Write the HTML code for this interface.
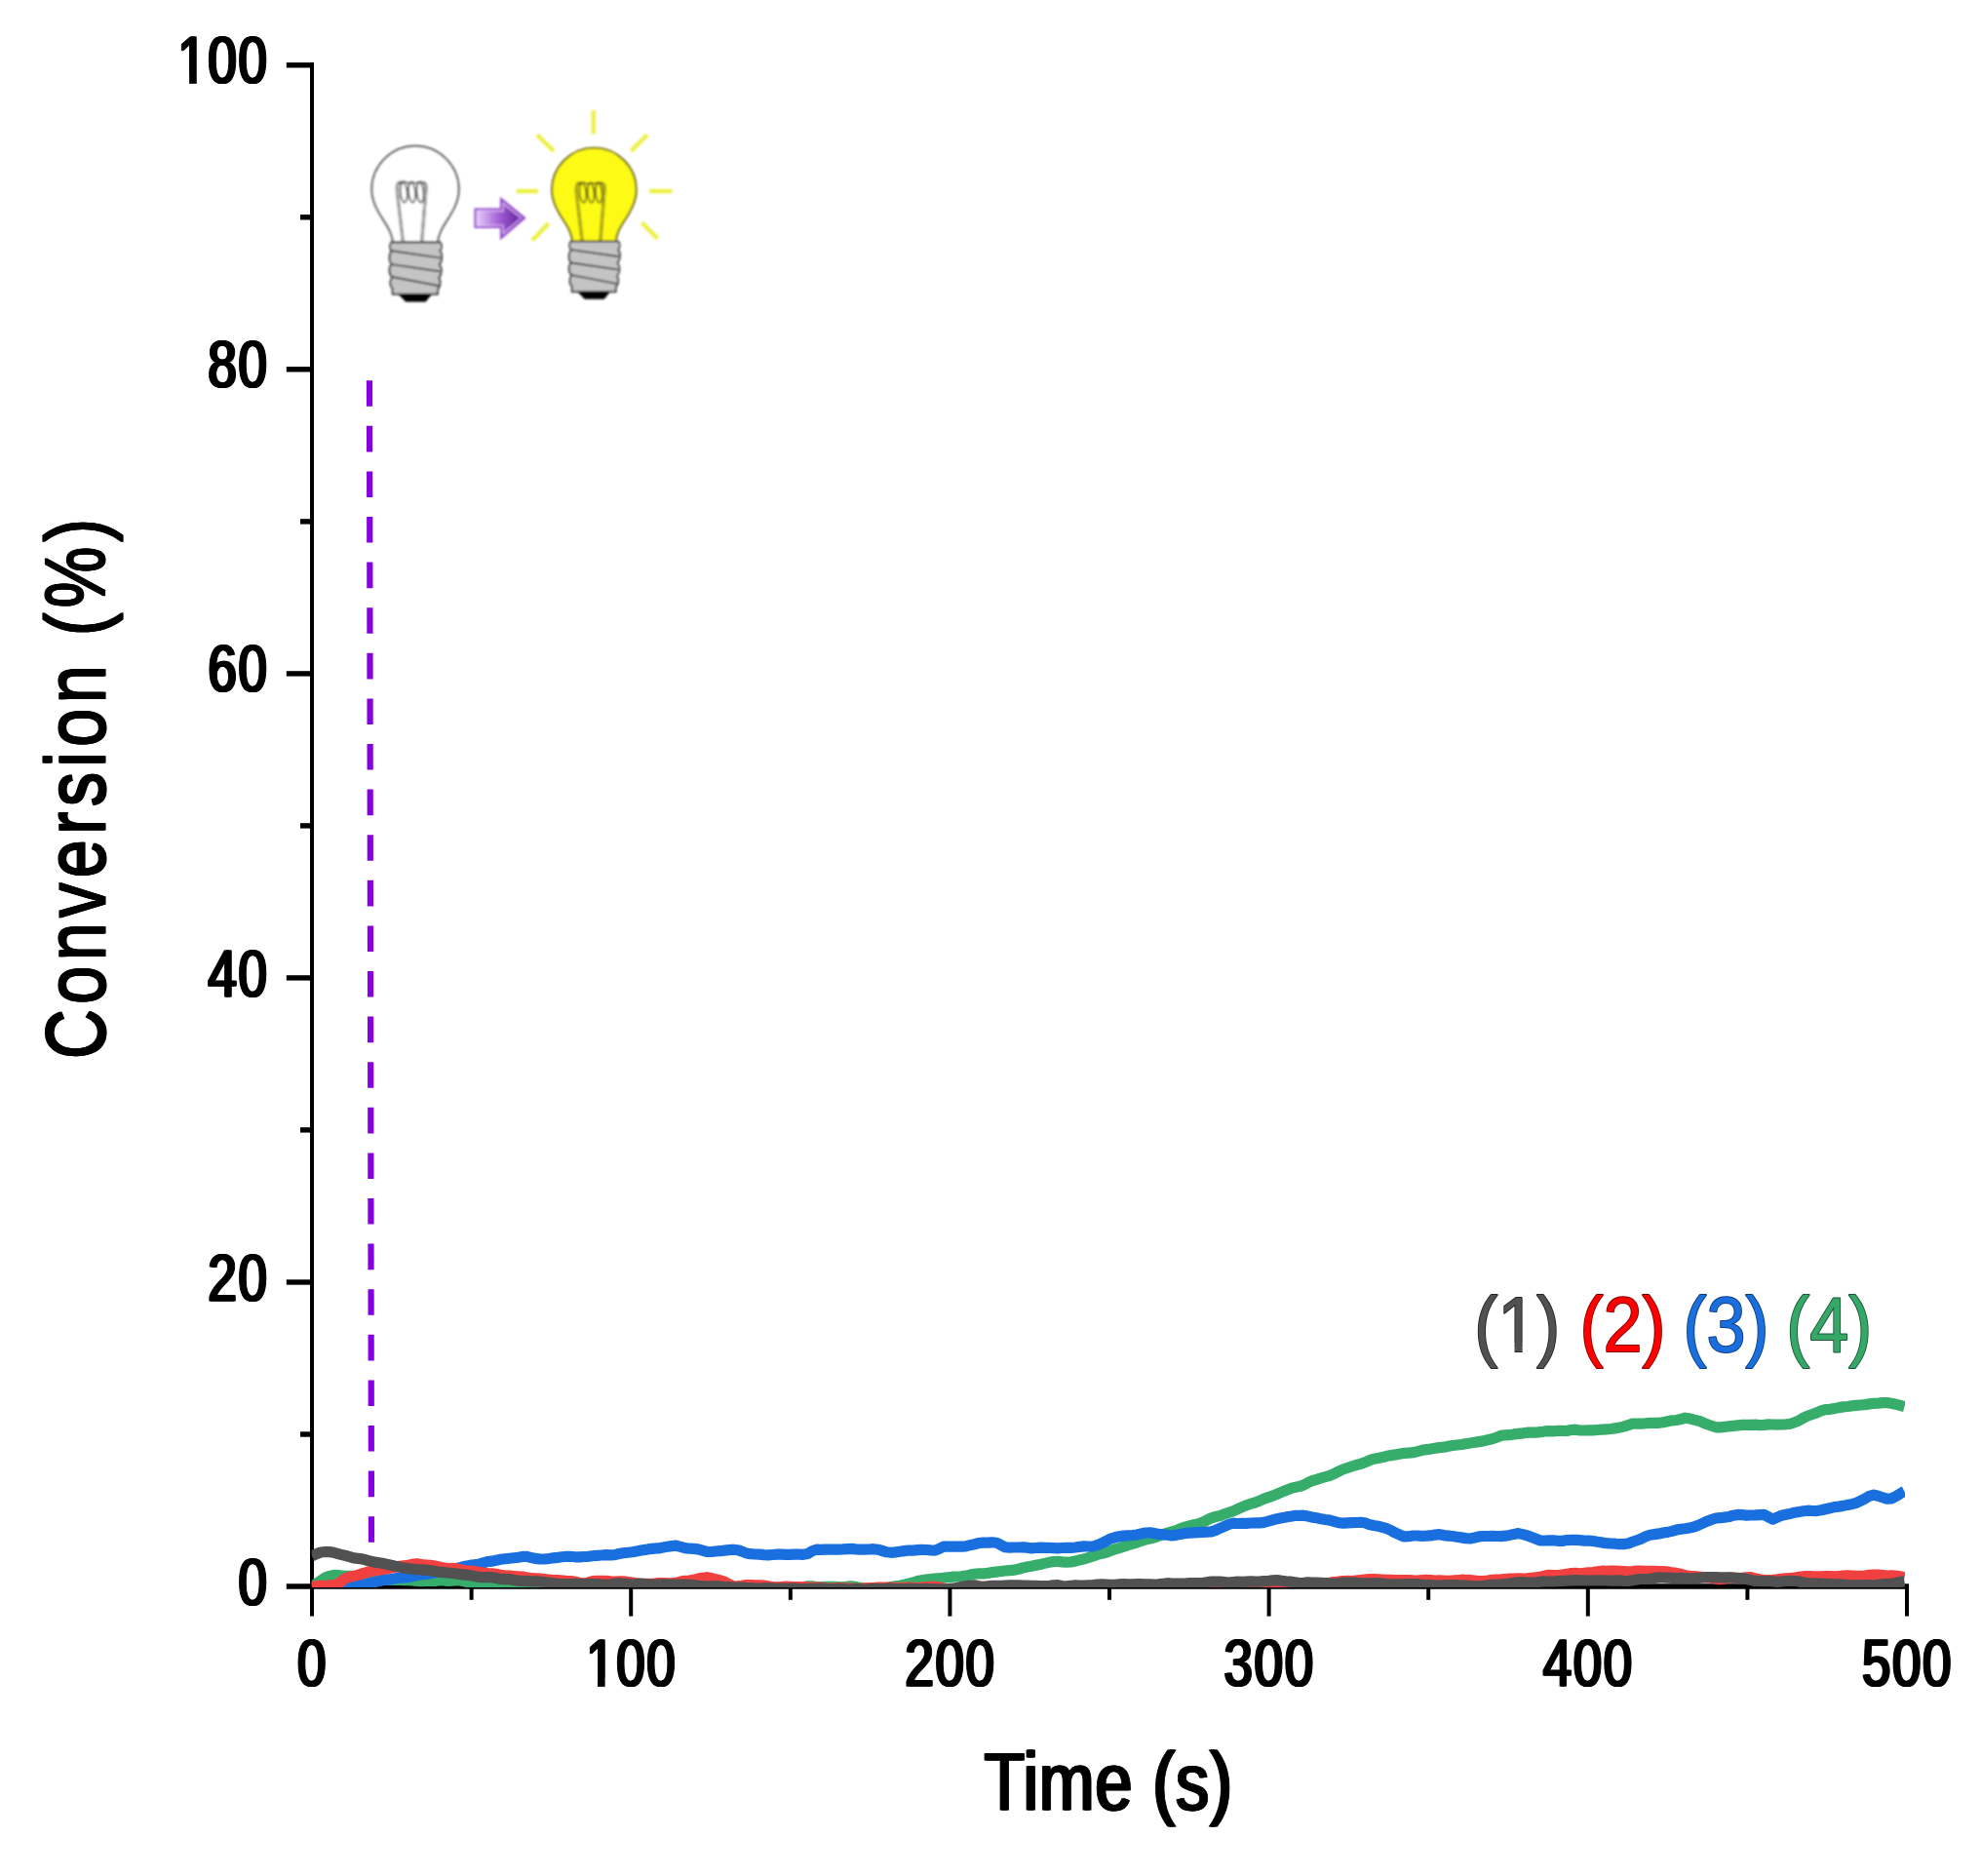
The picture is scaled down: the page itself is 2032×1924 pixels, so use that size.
<!DOCTYPE html>
<html lang="en"><head><meta charset="utf-8"><title>Conversion vs Time</title>
<style>
html,body{margin:0;padding:0;background:#fff;}
body{width:2032px;height:1924px;overflow:hidden;}
svg{display:block;}
text{font-family:"Liberation Sans",sans-serif;}
</style></head><body>
<svg width="2032" height="1924" viewBox="0 0 2032 1924">
<defs>
<clipPath id="plot"><rect x="319.6" y="0" width="1634.4" height="1628.1"/></clipPath>
<linearGradient id="arr" x1="0" y1="0" x2="1" y2="0"><stop offset="0" stop-color="#e9d4fb"/><stop offset="0.45" stop-color="#a565d6"/><stop offset="1" stop-color="#5f1496"/></linearGradient>
<filter id="soft" x="-5%" y="-5%" width="110%" height="110%"><feGaussianBlur stdDeviation="0.9"/></filter>
</defs>
<rect width="2032" height="1924" fill="#fff"/>
<g stroke="#000" fill="none" stroke-linecap="butt">
<line x1="320" y1="64.1" x2="320" y2="1629.7" stroke-width="4.0"/>
<line x1="293.8" y1="1627" x2="1958" y2="1627" stroke-width="5.4"/>
<line x1="308" y1="1471.0" x2="321" y2="1471.0" stroke-width="5.4"/>
<line x1="293.8" y1="1315.0" x2="321" y2="1315.0" stroke-width="5.4"/>
<line x1="308" y1="1158.9" x2="321" y2="1158.9" stroke-width="5.4"/>
<line x1="293.8" y1="1002.9" x2="321" y2="1002.9" stroke-width="5.4"/>
<line x1="308" y1="846.9" x2="321" y2="846.9" stroke-width="5.4"/>
<line x1="293.8" y1="690.9" x2="321" y2="690.9" stroke-width="5.4"/>
<line x1="308" y1="534.9" x2="321" y2="534.9" stroke-width="5.4"/>
<line x1="293.8" y1="378.8" x2="321" y2="378.8" stroke-width="5.4"/>
<line x1="308" y1="222.8" x2="321" y2="222.8" stroke-width="5.4"/>
<line x1="293.8" y1="66.8" x2="321" y2="66.8" stroke-width="5.4"/>
<line x1="320.0" y1="1626" x2="320.0" y2="1657.6" stroke-width="4.0"/>
<line x1="483.6" y1="1626" x2="483.6" y2="1640.8" stroke-width="4.0"/>
<line x1="647.2" y1="1626" x2="647.2" y2="1657.6" stroke-width="4.0"/>
<line x1="810.8" y1="1626" x2="810.8" y2="1640.8" stroke-width="4.0"/>
<line x1="974.4" y1="1626" x2="974.4" y2="1657.6" stroke-width="4.0"/>
<line x1="1138.0" y1="1626" x2="1138.0" y2="1640.8" stroke-width="4.0"/>
<line x1="1301.6" y1="1626" x2="1301.6" y2="1657.6" stroke-width="4.0"/>
<line x1="1465.2" y1="1626" x2="1465.2" y2="1640.8" stroke-width="4.0"/>
<line x1="1628.8" y1="1626" x2="1628.8" y2="1657.6" stroke-width="4.0"/>
<line x1="1792.4" y1="1626" x2="1792.4" y2="1640.8" stroke-width="4.0"/>
<line x1="1956.0" y1="1626" x2="1956.0" y2="1657.6" stroke-width="4.0"/>
</g>
<line x1="379" y1="390.2" x2="381" y2="1582.6" stroke="#8400e0" stroke-width="6.2" stroke-dasharray="26.6 20"/>
<g clip-path="url(#plot)" fill="none" stroke-width="11.2" stroke-linejoin="round" stroke-linecap="butt">
<path stroke="#37ad6b" d="M320.0 1627.6 L324.5 1624.4 L329.0 1621.1 L333.5 1618.0 L338.0 1616.4 L342.5 1615.4 L347.0 1615.5 L351.5 1616.2 L356.0 1616.3 L360.5 1616.3 L365.0 1616.9 L369.5 1617.5 L374.0 1617.9 L378.5 1618.1 L383.0 1618.3 L387.5 1618.7 L392.0 1619.4 L396.5 1620.2 L401.0 1620.5 L405.5 1620.5 L410.0 1620.4 L414.5 1620.7 L419.0 1620.7 L423.5 1620.9 L428.0 1621.5 L432.5 1621.7 L437.0 1621.5 L441.5 1621.3 L446.0 1621.3 L450.5 1621.0 L455.0 1621.0 L459.5 1621.4 L464.0 1621.1 L468.5 1620.6 L473.0 1621.0 L477.5 1622.2 L482.0 1622.9 L486.5 1622.8 L491.0 1622.7 L495.5 1622.7 L500.0 1622.8 L504.5 1623.0 L509.0 1623.1 L513.5 1623.4 L518.0 1624.0 L522.5 1624.4 L527.0 1625.0 L531.5 1625.5 L536.0 1626.0 L540.5 1626.5 L545.0 1626.8 L549.5 1626.7 L554.0 1627.3 L558.5 1627.9 L563.0 1628.2 L567.5 1628.6 L572.0 1629.0 L576.5 1629.8 L581.0 1630.5 L585.5 1631.1 L590.0 1631.9 L594.5 1632.0 L599.0 1631.9 L603.5 1631.8 L608.0 1631.8 L612.5 1631.9 L617.0 1632.1 L621.5 1632.0 L626.0 1632.2 L630.5 1632.8 L635.0 1632.7 L639.5 1632.5 L644.0 1632.4 L648.5 1632.3 L653.0 1632.2 L657.5 1632.0 L662.0 1631.8 L666.5 1632.1 L671.0 1632.3 L675.5 1631.9 L680.0 1631.5 L684.5 1631.3 L689.0 1631.1 L693.5 1631.3 L698.0 1631.9 L702.5 1632.4 L707.0 1631.9 L711.5 1631.6 L716.0 1632.0 L720.5 1632.1 L725.0 1632.0 L729.5 1632.1 L734.0 1632.0 L738.5 1632.1 L743.0 1632.3 L747.5 1632.2 L752.0 1631.9 L756.5 1631.7 L761.0 1631.7 L765.5 1632.1 L770.0 1632.4 L774.5 1632.4 L779.0 1632.3 L783.5 1632.3 L788.0 1632.4 L792.5 1632.2 L797.0 1631.9 L801.5 1631.7 L806.0 1631.0 L810.5 1630.6 L815.0 1630.2 L819.5 1629.1 L824.0 1627.7 L828.5 1626.8 L833.0 1626.8 L837.5 1627.5 L842.0 1627.7 L846.5 1627.4 L851.0 1627.3 L855.5 1627.3 L860.0 1627.6 L864.5 1627.7 L869.0 1627.2 L873.5 1626.9 L878.0 1627.6 L882.5 1628.4 L887.0 1629.0 L891.5 1629.4 L896.0 1629.2 L900.5 1629.4 L905.0 1629.3 L909.5 1628.6 L914.0 1627.5 L918.5 1626.8 L923.0 1626.3 L927.5 1625.3 L932.0 1624.2 L936.5 1623.0 L941.0 1621.6 L945.5 1620.7 L950.0 1620.1 L954.5 1619.6 L959.0 1619.2 L963.5 1618.7 L968.0 1618.2 L972.5 1617.7 L977.0 1617.2 L981.5 1617.0 L986.0 1616.8 L990.5 1616.1 L995.0 1615.1 L999.5 1614.3 L1004.0 1613.8 L1008.5 1613.8 L1013.0 1613.4 L1017.5 1612.6 L1022.0 1612.1 L1026.5 1611.5 L1031.0 1611.0 L1035.5 1610.6 L1040.0 1610.2 L1044.5 1609.3 L1049.0 1607.9 L1053.5 1607.0 L1058.0 1606.2 L1062.5 1605.3 L1067.0 1604.4 L1071.5 1603.4 L1076.0 1602.4 L1080.5 1601.5 L1085.0 1601.4 L1089.5 1601.9 L1094.0 1602.2 L1098.5 1602.0 L1103.0 1601.0 L1107.5 1599.9 L1112.0 1598.9 L1116.5 1597.5 L1121.0 1595.9 L1125.5 1594.4 L1130.0 1593.4 L1134.5 1592.3 L1139.0 1590.5 L1143.5 1588.9 L1148.0 1587.6 L1152.5 1586.2 L1157.0 1584.6 L1161.5 1583.3 L1166.0 1582.1 L1170.5 1580.3 L1175.0 1578.9 L1179.5 1578.1 L1184.0 1576.9 L1188.5 1575.2 L1193.0 1573.6 L1197.5 1572.2 L1202.0 1570.9 L1206.5 1569.6 L1211.0 1567.8 L1215.5 1566.1 L1220.0 1564.9 L1224.5 1563.8 L1229.0 1562.9 L1233.5 1561.4 L1238.0 1559.1 L1242.5 1556.8 L1247.0 1555.5 L1251.5 1554.5 L1256.0 1552.8 L1260.5 1551.2 L1265.0 1549.7 L1269.5 1547.6 L1274.0 1545.6 L1278.5 1543.8 L1283.0 1542.2 L1287.5 1541.0 L1292.0 1539.2 L1296.5 1537.1 L1301.0 1535.6 L1305.5 1534.1 L1310.0 1532.3 L1314.5 1530.4 L1319.0 1528.4 L1323.5 1526.7 L1328.0 1525.4 L1332.5 1524.6 L1337.0 1523.1 L1341.5 1520.7 L1346.0 1518.7 L1350.5 1517.3 L1355.0 1515.9 L1359.5 1514.7 L1364.0 1513.4 L1368.5 1511.4 L1373.0 1509.1 L1377.5 1507.0 L1382.0 1505.5 L1386.5 1504.0 L1391.0 1502.5 L1395.5 1501.4 L1400.0 1499.8 L1404.5 1497.8 L1409.0 1496.2 L1413.5 1495.4 L1418.0 1494.6 L1422.5 1493.3 L1427.0 1492.6 L1431.5 1491.9 L1436.0 1491.0 L1440.5 1490.4 L1445.0 1490.1 L1449.5 1489.7 L1454.0 1488.6 L1458.5 1487.3 L1463.0 1486.6 L1467.5 1486.1 L1472.0 1485.3 L1476.5 1484.6 L1481.0 1484.2 L1485.5 1483.3 L1490.0 1482.5 L1494.5 1482.0 L1499.0 1481.5 L1503.5 1480.7 L1508.0 1480.0 L1512.5 1479.3 L1517.0 1478.6 L1521.5 1477.9 L1526.0 1476.8 L1530.5 1475.8 L1535.0 1474.2 L1539.5 1472.4 L1544.0 1471.8 L1548.5 1471.7 L1553.0 1470.9 L1557.5 1470.4 L1562.0 1469.9 L1566.5 1469.2 L1571.0 1469.1 L1575.5 1469.1 L1580.0 1468.7 L1584.5 1467.9 L1589.0 1467.7 L1593.5 1467.8 L1598.0 1467.4 L1602.5 1467.3 L1607.0 1467.5 L1611.5 1466.5 L1616.0 1466.2 L1620.5 1467.0 L1625.0 1467.0 L1629.5 1466.8 L1634.0 1466.9 L1638.5 1466.5 L1643.0 1466.2 L1647.5 1465.8 L1652.0 1465.5 L1656.5 1464.9 L1661.0 1464.1 L1665.5 1463.1 L1670.0 1461.7 L1674.5 1460.1 L1679.0 1460.0 L1683.5 1460.2 L1688.0 1459.7 L1692.5 1459.3 L1697.0 1459.3 L1701.5 1459.3 L1706.0 1458.7 L1710.5 1457.7 L1715.0 1456.8 L1719.5 1456.5 L1724.0 1455.6 L1728.5 1454.2 L1733.0 1454.8 L1737.5 1456.1 L1742.0 1457.1 L1746.5 1458.8 L1751.0 1460.8 L1755.5 1462.3 L1760.0 1463.8 L1764.5 1463.9 L1769.0 1463.4 L1773.5 1462.8 L1778.0 1462.4 L1782.5 1461.9 L1787.0 1461.4 L1791.5 1461.3 L1796.0 1461.3 L1800.5 1461.2 L1805.0 1461.6 L1809.5 1461.3 L1814.0 1460.9 L1818.5 1461.0 L1823.0 1461.1 L1827.5 1461.0 L1832.0 1460.8 L1836.5 1460.2 L1841.0 1458.7 L1845.5 1456.8 L1850.0 1454.1 L1854.5 1452.0 L1859.0 1450.5 L1863.5 1448.9 L1868.0 1446.9 L1872.5 1445.6 L1877.0 1445.3 L1881.5 1444.6 L1886.0 1443.6 L1890.5 1442.9 L1895.0 1442.5 L1899.5 1441.9 L1904.0 1441.3 L1908.5 1441.0 L1913.0 1440.6 L1917.5 1439.9 L1922.0 1439.3 L1926.5 1439.1 L1931.0 1438.6 L1935.5 1438.6 L1940.0 1439.2 L1944.5 1440.2 L1949.0 1441.4 L1953.5 1442.6"/>
<path stroke="#1a6fdf" d="M320.0 1629.1 L324.5 1628.9 L329.0 1628.3 L333.5 1627.9 L338.0 1628.1 L342.5 1628.3 L347.0 1628.3 L351.5 1628.3 L356.0 1628.1 L360.5 1626.9 L365.0 1626.0 L369.5 1625.5 L374.0 1625.0 L378.5 1624.0 L383.0 1622.8 L387.5 1621.7 L392.0 1620.7 L396.5 1620.1 L401.0 1619.7 L405.5 1618.8 L410.0 1617.9 L414.5 1617.8 L419.0 1617.6 L423.5 1616.6 L428.0 1615.4 L432.5 1614.8 L437.0 1614.5 L441.5 1613.7 L446.0 1612.7 L450.5 1612.1 L455.0 1611.8 L459.5 1611.1 L464.0 1609.6 L468.5 1608.5 L473.0 1607.5 L477.5 1606.2 L482.0 1605.4 L486.5 1604.9 L491.0 1604.3 L495.5 1602.9 L500.0 1601.6 L504.5 1601.2 L509.0 1600.3 L513.5 1599.3 L518.0 1598.8 L522.5 1598.3 L527.0 1597.8 L531.5 1597.2 L536.0 1596.4 L540.5 1596.4 L545.0 1597.6 L549.5 1598.4 L554.0 1599.0 L558.5 1599.0 L563.0 1598.5 L567.5 1597.8 L572.0 1597.4 L576.5 1596.8 L581.0 1596.3 L585.5 1596.3 L590.0 1596.8 L594.5 1596.9 L599.0 1596.5 L603.5 1596.3 L608.0 1595.7 L612.5 1595.3 L617.0 1595.0 L621.5 1594.6 L626.0 1594.9 L630.5 1594.6 L635.0 1593.5 L639.5 1592.7 L644.0 1592.2 L648.5 1591.7 L653.0 1590.9 L657.5 1590.0 L662.0 1589.4 L666.5 1588.6 L671.0 1588.1 L675.5 1587.9 L680.0 1587.0 L684.5 1586.3 L689.0 1585.6 L693.5 1585.2 L698.0 1586.4 L702.5 1587.6 L707.0 1588.2 L711.5 1588.4 L716.0 1588.8 L720.5 1590.1 L725.0 1591.4 L729.5 1591.5 L734.0 1591.0 L738.5 1590.7 L743.0 1590.1 L747.5 1589.7 L752.0 1589.2 L756.5 1589.7 L761.0 1591.1 L765.5 1592.9 L770.0 1593.7 L774.5 1594.0 L779.0 1594.2 L783.5 1594.6 L788.0 1594.8 L792.5 1594.5 L797.0 1594.1 L801.5 1594.1 L806.0 1594.4 L810.5 1594.4 L815.0 1594.2 L819.5 1594.1 L824.0 1594.3 L828.5 1593.5 L833.0 1590.7 L837.5 1589.2 L842.0 1589.4 L846.5 1589.1 L851.0 1589.0 L855.5 1589.2 L860.0 1589.1 L864.5 1588.9 L869.0 1588.6 L873.5 1588.4 L878.0 1588.8 L882.5 1589.1 L887.0 1589.1 L891.5 1589.0 L896.0 1588.7 L900.5 1589.2 L905.0 1590.5 L909.5 1591.8 L914.0 1592.3 L918.5 1591.9 L923.0 1591.3 L927.5 1590.6 L932.0 1590.0 L936.5 1590.1 L941.0 1589.7 L945.5 1589.3 L950.0 1589.5 L954.5 1589.9 L959.0 1590.2 L963.5 1588.3 L968.0 1586.1 L972.5 1586.2 L977.0 1586.2 L981.5 1586.1 L986.0 1586.2 L990.5 1585.9 L995.0 1584.7 L999.5 1583.8 L1004.0 1582.5 L1008.5 1582.1 L1013.0 1582.1 L1017.5 1581.8 L1022.0 1582.3 L1026.5 1584.4 L1031.0 1586.7 L1035.5 1587.2 L1040.0 1587.0 L1044.5 1587.0 L1049.0 1586.9 L1053.5 1587.2 L1058.0 1587.9 L1062.5 1587.5 L1067.0 1587.1 L1071.5 1587.4 L1076.0 1587.4 L1080.5 1587.6 L1085.0 1587.8 L1089.5 1587.5 L1094.0 1587.3 L1098.5 1587.4 L1103.0 1587.0 L1107.5 1586.3 L1112.0 1585.9 L1116.5 1586.0 L1121.0 1586.0 L1125.5 1584.6 L1130.0 1582.8 L1134.5 1580.5 L1139.0 1578.1 L1143.5 1576.8 L1148.0 1575.7 L1152.5 1575.1 L1157.0 1574.8 L1161.5 1574.5 L1166.0 1574.0 L1170.5 1573.0 L1175.0 1572.0 L1179.5 1571.9 L1184.0 1572.6 L1188.5 1573.4 L1193.0 1573.8 L1197.5 1574.3 L1202.0 1574.9 L1206.5 1574.4 L1211.0 1573.4 L1215.5 1572.6 L1220.0 1572.2 L1224.5 1571.9 L1229.0 1571.6 L1233.5 1571.3 L1238.0 1571.1 L1242.5 1570.8 L1247.0 1569.4 L1251.5 1567.3 L1256.0 1565.4 L1260.5 1563.4 L1265.0 1562.2 L1269.5 1562.5 L1274.0 1562.4 L1278.5 1562.3 L1283.0 1562.0 L1287.5 1561.9 L1292.0 1561.9 L1296.5 1561.4 L1301.0 1560.2 L1305.5 1558.9 L1310.0 1557.7 L1314.5 1556.7 L1319.0 1555.9 L1323.5 1555.3 L1328.0 1554.4 L1332.5 1554.3 L1337.0 1554.2 L1341.5 1555.0 L1346.0 1556.1 L1350.5 1556.7 L1355.0 1557.7 L1359.5 1558.5 L1364.0 1559.1 L1368.5 1560.4 L1373.0 1561.7 L1377.5 1562.1 L1382.0 1561.8 L1386.5 1561.6 L1391.0 1561.5 L1395.5 1561.3 L1400.0 1561.8 L1404.5 1563.6 L1409.0 1564.5 L1413.5 1565.2 L1418.0 1566.4 L1422.5 1567.7 L1427.0 1569.8 L1431.5 1572.2 L1436.0 1574.2 L1440.5 1576.0 L1445.0 1575.7 L1449.5 1575.0 L1454.0 1575.0 L1458.5 1575.4 L1463.0 1575.2 L1467.5 1574.9 L1472.0 1574.1 L1476.5 1573.7 L1481.0 1574.6 L1485.5 1575.1 L1490.0 1575.5 L1494.5 1576.2 L1499.0 1576.9 L1503.5 1577.6 L1508.0 1577.9 L1512.5 1577.0 L1517.0 1575.9 L1521.5 1575.5 L1526.0 1575.5 L1530.5 1575.3 L1535.0 1575.5 L1539.5 1575.6 L1544.0 1575.2 L1548.5 1574.4 L1553.0 1573.4 L1557.5 1572.6 L1562.0 1573.6 L1566.5 1574.8 L1571.0 1576.5 L1575.5 1578.3 L1580.0 1580.0 L1584.5 1580.0 L1589.0 1579.8 L1593.5 1579.8 L1598.0 1580.3 L1602.5 1580.4 L1607.0 1579.6 L1611.5 1579.3 L1616.0 1579.4 L1620.5 1579.7 L1625.0 1580.1 L1629.5 1580.1 L1634.0 1580.5 L1638.5 1581.3 L1643.0 1581.9 L1647.5 1582.7 L1652.0 1583.0 L1656.5 1583.2 L1661.0 1583.7 L1665.5 1583.6 L1670.0 1583.0 L1674.5 1581.2 L1679.0 1579.7 L1683.5 1578.1 L1688.0 1575.7 L1692.5 1574.2 L1697.0 1573.6 L1701.5 1572.9 L1706.0 1572.0 L1710.5 1571.4 L1715.0 1570.4 L1719.5 1569.1 L1724.0 1568.3 L1728.5 1567.7 L1733.0 1566.9 L1737.5 1566.0 L1742.0 1564.3 L1746.5 1562.2 L1751.0 1560.2 L1755.5 1558.5 L1760.0 1557.0 L1764.5 1556.7 L1769.0 1556.1 L1773.5 1555.5 L1778.0 1554.2 L1782.5 1553.4 L1787.0 1553.7 L1791.5 1554.1 L1796.0 1554.0 L1800.5 1553.9 L1805.0 1553.6 L1809.5 1553.3 L1814.0 1555.9 L1818.5 1558.1 L1823.0 1556.1 L1827.5 1554.3 L1832.0 1553.3 L1836.5 1552.4 L1841.0 1551.2 L1845.5 1550.5 L1850.0 1549.8 L1854.5 1549.2 L1859.0 1549.5 L1863.5 1549.6 L1868.0 1548.8 L1872.5 1547.7 L1877.0 1546.7 L1881.5 1545.6 L1886.0 1545.1 L1890.5 1544.4 L1895.0 1543.4 L1899.5 1542.7 L1904.0 1541.4 L1908.5 1539.3 L1913.0 1537.0 L1917.5 1534.3 L1922.0 1533.1 L1926.5 1534.2 L1931.0 1535.7 L1935.5 1537.1 L1940.0 1536.9 L1944.5 1534.7 L1949.0 1531.9 L1953.5 1529.5"/>
<path stroke="#f14040" d="M320.0 1627.2 L324.5 1626.7 L329.0 1626.4 L333.5 1626.5 L338.0 1625.9 L342.5 1625.7 L347.0 1624.3 L351.5 1620.7 L356.0 1618.2 L360.5 1616.8 L365.0 1615.9 L369.5 1614.6 L374.0 1613.1 L378.5 1611.8 L383.0 1611.1 L387.5 1610.3 L392.0 1609.6 L396.5 1609.0 L401.0 1608.0 L405.5 1607.1 L410.0 1606.4 L414.5 1605.8 L419.0 1605.2 L423.5 1604.2 L428.0 1603.9 L432.5 1604.6 L437.0 1605.0 L441.5 1605.4 L446.0 1606.1 L450.5 1607.0 L455.0 1608.0 L459.5 1608.5 L464.0 1608.3 L468.5 1608.9 L473.0 1610.0 L477.5 1610.9 L482.0 1611.2 L486.5 1611.4 L491.0 1612.2 L495.5 1613.0 L500.0 1613.6 L504.5 1613.9 L509.0 1614.3 L513.5 1615.4 L518.0 1616.1 L522.5 1616.1 L527.0 1616.5 L531.5 1616.8 L536.0 1617.1 L540.5 1617.9 L545.0 1618.7 L549.5 1618.9 L554.0 1619.1 L558.5 1619.5 L563.0 1620.2 L567.5 1620.5 L572.0 1620.5 L576.5 1621.0 L581.0 1621.4 L585.5 1621.5 L590.0 1622.3 L594.5 1623.2 L599.0 1623.9 L603.5 1623.0 L608.0 1621.7 L612.5 1621.4 L617.0 1621.4 L621.5 1621.3 L626.0 1621.9 L630.5 1622.0 L635.0 1621.8 L639.5 1621.9 L644.0 1622.5 L648.5 1623.0 L653.0 1623.8 L657.5 1624.5 L662.0 1624.3 L666.5 1624.3 L671.0 1624.3 L675.5 1623.6 L680.0 1623.6 L684.5 1623.8 L689.0 1623.8 L693.5 1623.3 L698.0 1622.1 L702.5 1621.3 L707.0 1621.1 L711.5 1620.3 L716.0 1619.1 L720.5 1618.3 L725.0 1617.7 L729.5 1618.5 L734.0 1619.8 L738.5 1620.8 L743.0 1622.2 L747.5 1624.6 L752.0 1626.8 L756.5 1626.9 L761.0 1626.3 L765.5 1625.5 L770.0 1625.6 L774.5 1625.9 L779.0 1625.8 L783.5 1626.1 L788.0 1626.8 L792.5 1627.7 L797.0 1627.9 L801.5 1627.5 L806.0 1627.2 L810.5 1627.3 L815.0 1627.5 L819.5 1627.5 L824.0 1627.5 L828.5 1627.8 L833.0 1628.0 L837.5 1628.1 L842.0 1628.1 L846.5 1628.6 L851.0 1629.2 L855.5 1628.7 L860.0 1628.5 L864.5 1628.9 L869.0 1628.9 L873.5 1629.0 L878.0 1629.3 L882.5 1629.3 L887.0 1628.9 L891.5 1628.6 L896.0 1628.5 L900.5 1628.1 L905.0 1628.1 L909.5 1628.1 L914.0 1628.1 L918.5 1628.3 L923.0 1628.5 L927.5 1628.3 L932.0 1628.1 L936.5 1628.3 L941.0 1628.5 L945.5 1628.0 L950.0 1627.6 L954.5 1627.5 L959.0 1627.2 L963.5 1627.8 L968.0 1629.2 L972.5 1629.7 L977.0 1629.5 L981.5 1629.3 L986.0 1629.5 L990.5 1629.9 L995.0 1630.0 L999.5 1630.0 L1004.0 1629.6 L1008.5 1629.4 L1013.0 1629.9 L1017.5 1630.4 L1022.0 1630.4 L1026.5 1630.3 L1031.0 1630.4 L1035.5 1629.9 L1040.0 1629.7 L1044.5 1630.0 L1049.0 1629.8 L1053.5 1629.6 L1058.0 1630.0 L1062.5 1630.3 L1067.0 1630.3 L1071.5 1630.8 L1076.0 1631.4 L1080.5 1631.1 L1085.0 1630.3 L1089.5 1629.7 L1094.0 1629.9 L1098.5 1630.2 L1103.0 1629.8 L1107.5 1629.7 L1112.0 1629.8 L1116.5 1629.7 L1121.0 1629.7 L1125.5 1630.2 L1130.0 1630.3 L1134.5 1629.9 L1139.0 1629.6 L1143.5 1629.8 L1148.0 1629.9 L1152.5 1629.6 L1157.0 1629.0 L1161.5 1629.1 L1166.0 1629.5 L1170.5 1629.7 L1175.0 1629.7 L1179.5 1629.4 L1184.0 1628.8 L1188.5 1628.5 L1193.0 1628.9 L1197.5 1629.4 L1202.0 1629.4 L1206.5 1629.3 L1211.0 1629.2 L1215.5 1628.7 L1220.0 1628.3 L1224.5 1628.4 L1229.0 1628.8 L1233.5 1629.2 L1238.0 1628.9 L1242.5 1628.5 L1247.0 1628.7 L1251.5 1628.6 L1256.0 1628.2 L1260.5 1627.9 L1265.0 1627.8 L1269.5 1628.1 L1274.0 1628.0 L1278.5 1627.7 L1283.0 1627.8 L1287.5 1628.0 L1292.0 1628.0 L1296.5 1628.1 L1301.0 1628.0 L1305.5 1627.4 L1310.0 1627.4 L1314.5 1627.5 L1319.0 1626.8 L1323.5 1626.0 L1328.0 1625.6 L1332.5 1625.3 L1337.0 1625.4 L1341.5 1625.3 L1346.0 1625.1 L1350.5 1624.7 L1355.0 1624.3 L1359.5 1623.9 L1364.0 1623.3 L1368.5 1622.5 L1373.0 1622.1 L1377.5 1621.5 L1382.0 1621.3 L1386.5 1621.5 L1391.0 1621.0 L1395.5 1620.5 L1400.0 1620.0 L1404.5 1619.5 L1409.0 1619.7 L1413.5 1619.9 L1418.0 1620.1 L1422.5 1620.3 L1427.0 1620.3 L1431.5 1620.5 L1436.0 1620.7 L1440.5 1620.5 L1445.0 1620.6 L1449.5 1620.9 L1454.0 1621.0 L1458.5 1620.7 L1463.0 1620.3 L1467.5 1620.6 L1472.0 1621.0 L1476.5 1620.9 L1481.0 1621.1 L1485.5 1621.3 L1490.0 1621.0 L1494.5 1620.7 L1499.0 1620.2 L1503.5 1620.3 L1508.0 1620.7 L1512.5 1621.1 L1517.0 1621.5 L1521.5 1621.6 L1526.0 1621.1 L1530.5 1620.4 L1535.0 1620.0 L1539.5 1619.8 L1544.0 1619.5 L1548.5 1619.2 L1553.0 1619.0 L1557.5 1618.9 L1562.0 1619.0 L1566.5 1618.9 L1571.0 1618.2 L1575.5 1617.7 L1580.0 1617.2 L1584.5 1616.1 L1589.0 1615.4 L1593.5 1615.6 L1598.0 1615.5 L1602.5 1615.0 L1607.0 1614.4 L1611.5 1613.6 L1616.0 1613.4 L1620.5 1613.8 L1625.0 1613.4 L1629.5 1612.8 L1634.0 1612.5 L1638.5 1611.7 L1643.0 1611.2 L1647.5 1611.3 L1652.0 1611.1 L1656.5 1611.1 L1661.0 1611.3 L1665.5 1611.5 L1670.0 1611.8 L1674.5 1611.6 L1679.0 1611.2 L1683.5 1611.2 L1688.0 1611.4 L1692.5 1611.4 L1697.0 1611.3 L1701.5 1611.6 L1706.0 1611.7 L1710.5 1612.1 L1715.0 1612.9 L1719.5 1613.4 L1724.0 1614.3 L1728.5 1615.7 L1733.0 1616.3 L1737.5 1616.6 L1742.0 1617.1 L1746.5 1617.6 L1751.0 1618.0 L1755.5 1618.2 L1760.0 1619.1 L1764.5 1619.7 L1769.0 1618.9 L1773.5 1618.0 L1778.0 1618.2 L1782.5 1618.6 L1787.0 1618.4 L1791.5 1617.9 L1796.0 1617.6 L1800.5 1618.9 L1805.0 1619.8 L1809.5 1620.5 L1814.0 1620.5 L1818.5 1620.3 L1823.0 1619.9 L1827.5 1619.3 L1832.0 1618.9 L1836.5 1618.5 L1841.0 1618.0 L1845.5 1617.3 L1850.0 1616.7 L1854.5 1616.5 L1859.0 1616.7 L1863.5 1616.8 L1868.0 1616.9 L1872.5 1616.7 L1877.0 1616.7 L1881.5 1616.8 L1886.0 1616.5 L1890.5 1616.1 L1895.0 1615.8 L1899.5 1616.0 L1904.0 1616.3 L1908.5 1616.3 L1913.0 1616.0 L1917.5 1615.3 L1922.0 1615.0 L1926.5 1615.2 L1931.0 1615.5 L1935.5 1616.1 L1940.0 1615.9 L1944.5 1616.0 L1949.0 1616.8 L1953.5 1617.8"/>
<path stroke="#515151" d="M320.0 1595.9 L324.5 1593.8 L329.0 1592.0 L333.5 1591.5 L338.0 1591.6 L342.5 1592.3 L347.0 1593.6 L351.5 1594.8 L356.0 1595.8 L360.5 1597.2 L365.0 1598.2 L369.5 1598.6 L374.0 1599.5 L378.5 1600.8 L383.0 1601.9 L387.5 1602.5 L392.0 1603.2 L396.5 1604.2 L401.0 1605.3 L405.5 1606.3 L410.0 1607.1 L414.5 1608.1 L419.0 1608.8 L423.5 1609.3 L428.0 1609.7 L432.5 1609.9 L437.0 1610.3 L441.5 1610.7 L446.0 1611.5 L450.5 1612.2 L455.0 1612.6 L459.5 1613.0 L464.0 1613.5 L468.5 1614.0 L473.0 1614.6 L477.5 1615.1 L482.0 1615.5 L486.5 1616.4 L491.0 1617.4 L495.5 1617.7 L500.0 1617.6 L504.5 1617.7 L509.0 1618.5 L513.5 1619.4 L518.0 1619.6 L522.5 1619.6 L527.0 1620.5 L531.5 1621.3 L536.0 1621.4 L540.5 1621.6 L545.0 1621.9 L549.5 1621.9 L554.0 1622.0 L558.5 1622.5 L563.0 1623.2 L567.5 1623.8 L572.0 1624.4 L576.5 1624.7 L581.0 1624.6 L585.5 1624.5 L590.0 1624.4 L594.5 1624.7 L599.0 1624.6 L603.5 1624.4 L608.0 1624.5 L612.5 1624.7 L617.0 1625.0 L621.5 1625.4 L626.0 1625.2 L630.5 1624.2 L635.0 1623.9 L639.5 1624.3 L644.0 1624.7 L648.5 1625.0 L653.0 1624.6 L657.5 1624.1 L662.0 1624.5 L666.5 1625.0 L671.0 1625.1 L675.5 1625.1 L680.0 1624.9 L684.5 1624.8 L689.0 1625.0 L693.5 1625.1 L698.0 1625.1 L702.5 1625.1 L707.0 1625.3 L711.5 1625.7 L716.0 1626.2 L720.5 1626.7 L725.0 1627.0 L729.5 1626.8 L734.0 1626.7 L738.5 1627.0 L743.0 1627.5 L747.5 1627.7 L752.0 1627.9 L756.5 1628.0 L761.0 1628.1 L765.5 1628.4 L770.0 1628.6 L774.5 1628.9 L779.0 1629.1 L783.5 1628.8 L788.0 1628.7 L792.5 1629.0 L797.0 1629.2 L801.5 1629.0 L806.0 1629.1 L810.5 1629.2 L815.0 1629.1 L819.5 1629.5 L824.0 1629.7 L828.5 1629.4 L833.0 1629.3 L837.5 1629.2 L842.0 1629.0 L846.5 1629.2 L851.0 1629.7 L855.5 1629.8 L860.0 1629.4 L864.5 1629.5 L869.0 1630.1 L873.5 1630.0 L878.0 1629.4 L882.5 1629.8 L887.0 1630.2 L891.5 1629.7 L896.0 1629.3 L900.5 1629.6 L905.0 1629.5 L909.5 1629.1 L914.0 1629.1 L918.5 1629.6 L923.0 1629.7 L927.5 1629.5 L932.0 1629.4 L936.5 1629.4 L941.0 1629.6 L945.5 1629.6 L950.0 1629.4 L954.5 1629.6 L959.0 1629.9 L963.5 1629.9 L968.0 1629.8 L972.5 1629.6 L977.0 1629.2 L981.5 1628.4 L986.0 1627.6 L990.5 1626.7 L995.0 1626.1 L999.5 1625.8 L1004.0 1626.7 L1008.5 1627.3 L1013.0 1626.8 L1017.5 1626.4 L1022.0 1626.3 L1026.5 1626.3 L1031.0 1626.1 L1035.5 1625.9 L1040.0 1625.8 L1044.5 1625.9 L1049.0 1626.1 L1053.5 1626.2 L1058.0 1626.3 L1062.5 1626.3 L1067.0 1626.5 L1071.5 1626.7 L1076.0 1626.5 L1080.5 1625.8 L1085.0 1625.7 L1089.5 1626.6 L1094.0 1626.9 L1098.5 1626.3 L1103.0 1625.9 L1107.5 1626.0 L1112.0 1626.0 L1116.5 1625.8 L1121.0 1625.6 L1125.5 1625.2 L1130.0 1624.9 L1134.5 1625.1 L1139.0 1625.4 L1143.5 1625.4 L1148.0 1624.9 L1152.5 1624.7 L1157.0 1624.8 L1161.5 1624.8 L1166.0 1624.7 L1170.5 1624.7 L1175.0 1624.8 L1179.5 1624.9 L1184.0 1625.1 L1188.5 1624.9 L1193.0 1624.2 L1197.5 1623.7 L1202.0 1624.0 L1206.5 1624.2 L1211.0 1624.2 L1215.5 1624.0 L1220.0 1623.7 L1224.5 1623.6 L1229.0 1623.6 L1233.5 1623.6 L1238.0 1622.8 L1242.5 1622.1 L1247.0 1622.1 L1251.5 1622.2 L1256.0 1622.6 L1260.5 1623.0 L1265.0 1622.5 L1269.5 1622.2 L1274.0 1622.4 L1278.5 1622.1 L1283.0 1621.8 L1287.5 1622.2 L1292.0 1622.1 L1296.5 1621.5 L1301.0 1621.3 L1305.5 1620.9 L1310.0 1620.6 L1314.5 1621.3 L1319.0 1621.9 L1323.5 1622.1 L1328.0 1622.7 L1332.5 1623.5 L1337.0 1623.3 L1341.5 1622.9 L1346.0 1623.0 L1350.5 1623.2 L1355.0 1623.4 L1359.5 1623.6 L1364.0 1624.0 L1368.5 1624.2 L1373.0 1623.7 L1377.5 1623.1 L1382.0 1623.1 L1386.5 1623.2 L1391.0 1623.4 L1395.5 1623.9 L1400.0 1623.9 L1404.5 1623.9 L1409.0 1623.9 L1413.5 1623.7 L1418.0 1624.0 L1422.5 1624.6 L1427.0 1624.8 L1431.5 1624.9 L1436.0 1625.0 L1440.5 1624.7 L1445.0 1624.6 L1449.5 1624.5 L1454.0 1624.5 L1458.5 1625.4 L1463.0 1625.6 L1467.5 1625.5 L1472.0 1626.0 L1476.5 1626.1 L1481.0 1625.8 L1485.5 1625.7 L1490.0 1625.6 L1494.5 1625.6 L1499.0 1626.0 L1503.5 1626.2 L1508.0 1626.4 L1512.5 1626.8 L1517.0 1626.7 L1521.5 1626.5 L1526.0 1625.8 L1530.5 1625.3 L1535.0 1625.2 L1539.5 1625.0 L1544.0 1624.5 L1548.5 1624.0 L1553.0 1623.3 L1557.5 1622.7 L1562.0 1622.7 L1566.5 1623.0 L1571.0 1623.0 L1575.5 1622.8 L1580.0 1622.2 L1584.5 1621.9 L1589.0 1622.0 L1593.5 1622.0 L1598.0 1621.7 L1602.5 1621.4 L1607.0 1621.2 L1611.5 1620.9 L1616.0 1620.7 L1620.5 1620.8 L1625.0 1620.9 L1629.5 1621.0 L1634.0 1621.0 L1638.5 1620.9 L1643.0 1620.8 L1647.5 1621.0 L1652.0 1621.2 L1656.5 1621.2 L1661.0 1620.9 L1665.5 1621.3 L1670.0 1621.5 L1674.5 1620.7 L1679.0 1619.9 L1683.5 1619.5 L1688.0 1619.5 L1692.5 1619.3 L1697.0 1618.5 L1701.5 1617.9 L1706.0 1618.0 L1710.5 1618.1 L1715.0 1618.3 L1719.5 1618.5 L1724.0 1618.4 L1728.5 1618.5 L1733.0 1618.9 L1737.5 1618.8 L1742.0 1618.3 L1746.5 1618.0 L1751.0 1617.6 L1755.5 1617.6 L1760.0 1617.7 L1764.5 1617.8 L1769.0 1617.8 L1773.5 1617.9 L1778.0 1618.2 L1782.5 1618.3 L1787.0 1618.5 L1791.5 1619.5 L1796.0 1620.5 L1800.5 1621.4 L1805.0 1621.7 L1809.5 1621.7 L1814.0 1621.5 L1818.5 1621.9 L1823.0 1622.4 L1827.5 1622.0 L1832.0 1621.5 L1836.5 1621.4 L1841.0 1621.5 L1845.5 1622.0 L1850.0 1623.1 L1854.5 1623.8 L1859.0 1623.9 L1863.5 1624.0 L1868.0 1624.2 L1872.5 1624.3 L1877.0 1624.5 L1881.5 1624.8 L1886.0 1624.9 L1890.5 1625.0 L1895.0 1625.5 L1899.5 1625.8 L1904.0 1625.7 L1908.5 1625.8 L1913.0 1625.6 L1917.5 1625.7 L1922.0 1625.8 L1926.5 1625.4 L1931.0 1624.9 L1935.5 1624.5 L1940.0 1624.4 L1944.5 1623.6 L1949.0 1622.4 L1953.5 1621.8"/>
</g>
<g transform="translate(273.80 1645.60) scale(0.782 1)"><text id="t1" x="-38.90" y="-0.00" font-size="67.6" font-weight="normal" letter-spacing="2.1" fill="#000" stroke="#000" stroke-width="1.2">0</text><use href="#t1" x="1.30"/><use href="#t1" x="2.60"/></g>
<g transform="translate(273.80 1333.56) scale(0.782 1)"><text id="t2" x="-78.59" y="-0.00" font-size="67.6" font-weight="normal" letter-spacing="2.1" fill="#000" stroke="#000" stroke-width="1.2">20</text><use href="#t2" x="1.30"/><use href="#t2" x="2.60"/></g>
<g transform="translate(273.80 1021.52) scale(0.782 1)"><text id="t3" x="-78.59" y="-0.00" font-size="67.6" font-weight="normal" letter-spacing="2.1" fill="#000" stroke="#000" stroke-width="1.2">40</text><use href="#t3" x="1.30"/><use href="#t3" x="2.60"/></g>
<g transform="translate(273.80 709.48) scale(0.782 1)"><text id="t4" x="-78.59" y="-0.00" font-size="67.6" font-weight="normal" letter-spacing="2.1" fill="#000" stroke="#000" stroke-width="1.2">60</text><use href="#t4" x="1.30"/><use href="#t4" x="2.60"/></g>
<g transform="translate(273.80 397.44) scale(0.782 1)"><text id="t5" x="-78.59" y="-0.00" font-size="67.6" font-weight="normal" letter-spacing="2.1" fill="#000" stroke="#000" stroke-width="1.2">80</text><use href="#t5" x="1.30"/><use href="#t5" x="2.60"/></g>
<g transform="translate(273.80 85.40) scale(0.782 1)"><text id="t6" x="-118.29" y="-0.00" font-size="67.6" font-weight="normal" letter-spacing="2.1" fill="#000" stroke="#000" stroke-width="1.2">100</text><use href="#t6" x="1.30"/><use href="#t6" x="2.60"/><rect x="-116.10" y="-7.18" width="14.21" height="9.08" fill="#fff"/><rect x="-92.11" y="-7.18" width="13.68" height="9.08" fill="#fff"/></g>
<g transform="translate(319.70 1728.90) scale(0.782 1)"><text id="t7" x="-20.10" y="-0.00" font-size="67.6" font-weight="normal" letter-spacing="2.1" fill="#000" stroke="#000" stroke-width="1.2">0</text><use href="#t7" x="1.30"/><use href="#t7" x="2.60"/></g>
<g transform="translate(646.90 1728.90) scale(0.782 1)"><text id="t8" x="-59.79" y="-0.00" font-size="67.6" font-weight="normal" letter-spacing="2.1" fill="#000" stroke="#000" stroke-width="1.2">100</text><use href="#t8" x="1.30"/><use href="#t8" x="2.60"/><rect x="-57.60" y="-7.18" width="14.21" height="9.08" fill="#fff"/><rect x="-33.62" y="-7.18" width="13.68" height="9.08" fill="#fff"/></g>
<g transform="translate(974.10 1728.90) scale(0.782 1)"><text id="t9" x="-59.79" y="-0.00" font-size="67.6" font-weight="normal" letter-spacing="2.1" fill="#000" stroke="#000" stroke-width="1.2">200</text><use href="#t9" x="1.30"/><use href="#t9" x="2.60"/></g>
<g transform="translate(1301.30 1728.90) scale(0.782 1)"><text id="t10" x="-59.79" y="-0.00" font-size="67.6" font-weight="normal" letter-spacing="2.1" fill="#000" stroke="#000" stroke-width="1.2">300</text><use href="#t10" x="1.30"/><use href="#t10" x="2.60"/></g>
<g transform="translate(1628.50 1728.90) scale(0.782 1)"><text id="t11" x="-59.79" y="-0.00" font-size="67.6" font-weight="normal" letter-spacing="2.1" fill="#000" stroke="#000" stroke-width="1.2">400</text><use href="#t11" x="1.30"/><use href="#t11" x="2.60"/></g>
<g transform="translate(1955.70 1728.90) scale(0.782 1)"><text id="t12" x="-59.79" y="-0.00" font-size="67.6" font-weight="normal" letter-spacing="2.1" fill="#000" stroke="#000" stroke-width="1.2">500</text><use href="#t12" x="1.30"/><use href="#t12" x="2.60"/></g>
<g transform="translate(1138.00 1856.20) scale(0.812 1)"><text id="t13" x="-159.64" y="-0.00" font-size="83.6" font-weight="normal" letter-spacing="1.4" fill="#000" stroke="#000" stroke-width="1.0">Time (s)</text><use href="#t13" x="1.50"/><use href="#t13" x="3.00"/></g>
<g transform="translate(107.40 809.00) rotate(-90) scale(0.84 1)"><text id="t14" x="-330.15" y="-0.95" font-size="84.5" font-weight="normal" letter-spacing="6.0" fill="#000" stroke="#000" stroke-width="1.2">Conversion (%)</text><use href="#t14" y="0.95"/><use href="#t14" y="1.90"/></g>
<g transform="translate(1556.30 1386.00) scale(0.9 1)"><text x="-48.89" y="-0.00" font-size="80" font-weight="normal" fill="#515151" stroke="#262626" stroke-width="2.0" paint-order="stroke" stroke-linejoin="round">(1)</text><rect x="-19.67" y="-8.55" width="16.54" height="10.85" fill="#fff"/><rect x="5.94" y="-8.55" width="15.91" height="10.85" fill="#fff"/></g>
<g transform="translate(1664.50 1386.00) scale(0.9 1)"><text x="-48.89" y="-0.00" font-size="80" font-weight="normal" fill="#ff0000" stroke="#800000" stroke-width="2.0" paint-order="stroke" stroke-linejoin="round">(2)</text></g>
<g transform="translate(1770.40 1386.00) scale(0.9 1)"><text x="-48.89" y="-0.00" font-size="80" font-weight="normal" fill="#1a6fdf" stroke="#0d3c7c" stroke-width="2.0" paint-order="stroke" stroke-linejoin="round">(3)</text></g>
<g transform="translate(1876.20 1386.00) scale(0.9 1)"><text x="-48.89" y="-0.00" font-size="80" font-weight="normal" fill="#35a868" stroke="#1b5636" stroke-width="2.0" paint-order="stroke" stroke-linejoin="round">(4)</text></g>
<g filter="url(#soft)">
<g transform="translate(426 149.8) scale(1.0)" stroke-linejoin="round" stroke-linecap="round">
<path d="M-23 98.8 C-23.6 88 -30 80.5 -36.3 70 C-41.2 61.8 -44.6 54 -44.6 44.6 A44.6 44.6 0 0 1 0 0 A44.6 44.6 0 0 1 44.6 44.6 C44.6 54 41.2 61.8 36.3 70 C30 80.5 23.6 88 23 98.8 Z" fill="#ffffff" stroke="#505050" stroke-width="2"/>
<path d="M-12.6 98.6 L-18.6 47 C-19.2 41 -18.6 37.6 -15.6 37.2 M6.6 98.6 L10.6 49 C11.4 42 11.4 38.6 8.6 37.6" fill="none" stroke="#505050" stroke-width="3"/>
<path d="M-12.6 98.6 L-18.6 47 C-19.2 41 -18.6 37.6 -15.6 37.2 M6.6 98.6 L10.6 49 C11.4 42 11.4 38.6 8.6 37.6" fill="none" stroke="#ffffff" stroke-width="0.9"/>
<ellipse cx="-11.8" cy="47.6" rx="3.5" ry="10.2" fill="none" stroke="#505050" stroke-width="1.7" transform="rotate(-5 -11.8 47.6)"/>
<ellipse cx="-3.4" cy="47.6" rx="3.5" ry="10.2" fill="none" stroke="#505050" stroke-width="1.7" transform="rotate(-5 -3.4 47.6)"/>
<ellipse cx="5.0" cy="47.6" rx="3.5" ry="10.2" fill="none" stroke="#505050" stroke-width="1.7" transform="rotate(-5 5.0 47.6)"/>
<path d="M-15.6 37.2 C-12 35.6 -9 36.6 -7.6 38.4 C-5 35.8 -1.6 36 0.4 38.4 C2.6 35.8 6.4 36 8.6 37.6" fill="none" stroke="#505050" stroke-width="1.4"/>
<path d="M-24.6 98.8 L25.6 98.8 C27.6 101 27.4 104.8 25.4 107.6 C28 110.6 28 118 24.6 121.4 C27.6 125 27.6 131.4 24.2 135 C26.4 139 25.6 144.4 23 146.6 L23 152 L-23.4 152 L-23.4 146 C-26.4 143.4 -26.4 138.4 -23.8 134.4 C-27.4 131 -27.4 124.6 -24.4 121.4 C-27.4 117.6 -27.2 111.6 -24.4 107.6 C-26.6 104.8 -26.4 101 -24.6 98.8 Z" fill="#c4c4c4" stroke="#444" stroke-width="2"/>
<path d="M-24.4 107.5 L25 114.6 M-24.4 121.3 L24.4 128.4 M-23.8 134.2 L23.4 143.2" fill="none" stroke="#444" stroke-width="1.9"/>
<path d="M-17 152 L16.6 152 L10.6 159.4 L-9.8 159.4 Z" fill="#000" stroke="#000" stroke-width="0.6"/>
</g>
<g transform="translate(609.4 151.6) scale(0.972)" stroke-linejoin="round" stroke-linecap="round">
<path d="M-23 98.8 C-23.6 88 -30 80.5 -36.3 70 C-41.2 61.8 -44.6 54 -44.6 44.6 A44.6 44.6 0 0 1 0 0 A44.6 44.6 0 0 1 44.6 44.6 C44.6 54 41.2 61.8 36.3 70 C30 80.5 23.6 88 23 98.8 Z" fill="#fdfa16" stroke="#6a6412" stroke-width="2"/>
<path d="M-12.6 98.6 L-18.6 47 C-19.2 41 -18.6 37.6 -15.6 37.2 M6.6 98.6 L10.6 49 C11.4 42 11.4 38.6 8.6 37.6" fill="none" stroke="#6a6412" stroke-width="3"/>
<path d="M-12.6 98.6 L-18.6 47 C-19.2 41 -18.6 37.6 -15.6 37.2 M6.6 98.6 L10.6 49 C11.4 42 11.4 38.6 8.6 37.6" fill="none" stroke="#fdfa16" stroke-width="0.9"/>
<ellipse cx="-11.8" cy="47.6" rx="3.5" ry="10.2" fill="none" stroke="#6a6412" stroke-width="1.7" transform="rotate(-5 -11.8 47.6)"/>
<ellipse cx="-3.4" cy="47.6" rx="3.5" ry="10.2" fill="none" stroke="#6a6412" stroke-width="1.7" transform="rotate(-5 -3.4 47.6)"/>
<ellipse cx="5.0" cy="47.6" rx="3.5" ry="10.2" fill="none" stroke="#6a6412" stroke-width="1.7" transform="rotate(-5 5.0 47.6)"/>
<path d="M-15.6 37.2 C-12 35.6 -9 36.6 -7.6 38.4 C-5 35.8 -1.6 36 0.4 38.4 C2.6 35.8 6.4 36 8.6 37.6" fill="none" stroke="#6a6412" stroke-width="1.4"/>
<path d="M-24.6 98.8 L25.6 98.8 C27.6 101 27.4 104.8 25.4 107.6 C28 110.6 28 118 24.6 121.4 C27.6 125 27.6 131.4 24.2 135 C26.4 139 25.6 144.4 23 146.6 L23 152 L-23.4 152 L-23.4 146 C-26.4 143.4 -26.4 138.4 -23.8 134.4 C-27.4 131 -27.4 124.6 -24.4 121.4 C-27.4 117.6 -27.2 111.6 -24.4 107.6 C-26.6 104.8 -26.4 101 -24.6 98.8 Z" fill="#c4c4c4" stroke="#444" stroke-width="2"/>
<path d="M-24.4 107.5 L25 114.6 M-24.4 121.3 L24.4 128.4 M-23.8 134.2 L23.4 143.2" fill="none" stroke="#444" stroke-width="1.9"/>
<path d="M-17 152 L16.6 152 L10.6 159.4 L-9.8 159.4 Z" fill="#000" stroke="#000" stroke-width="0.6"/>
</g>
<g stroke="#ecf044" stroke-width="4.4" stroke-linecap="butt" fill="none">
<line x1="608.8" y1="113.2" x2="608.8" y2="137.4"/>
<line x1="550.9" y1="138.3" x2="568" y2="155"/>
<line x1="663.9" y1="138.3" x2="647.3" y2="155"/>
<line x1="529.6" y1="196.1" x2="552.1" y2="196.1"/>
<line x1="666.1" y1="196.1" x2="689.3" y2="196.1"/>
<line x1="562.7" y1="229.1" x2="545.9" y2="246.5"/>
<line x1="658.5" y1="228.5" x2="674.7" y2="244.7"/>
</g>
<path d="M487.5 214.5 L514 214.5 L514 204 L538 223.6 L514 244 L514 233 L487.5 233 Z" fill="url(#arr)" stroke="#9a4fd0" stroke-width="2.2" stroke-linejoin="miter"/>
<path d="M489.5 216.5 L516 216.5 L516 208.5 L534.5 223.6 L516 239.5 L516 231 L489.5 231 Z" fill="none" stroke="#e6ccfa" stroke-width="1.2" opacity="0.9"/>
</g>
</svg></body></html>
